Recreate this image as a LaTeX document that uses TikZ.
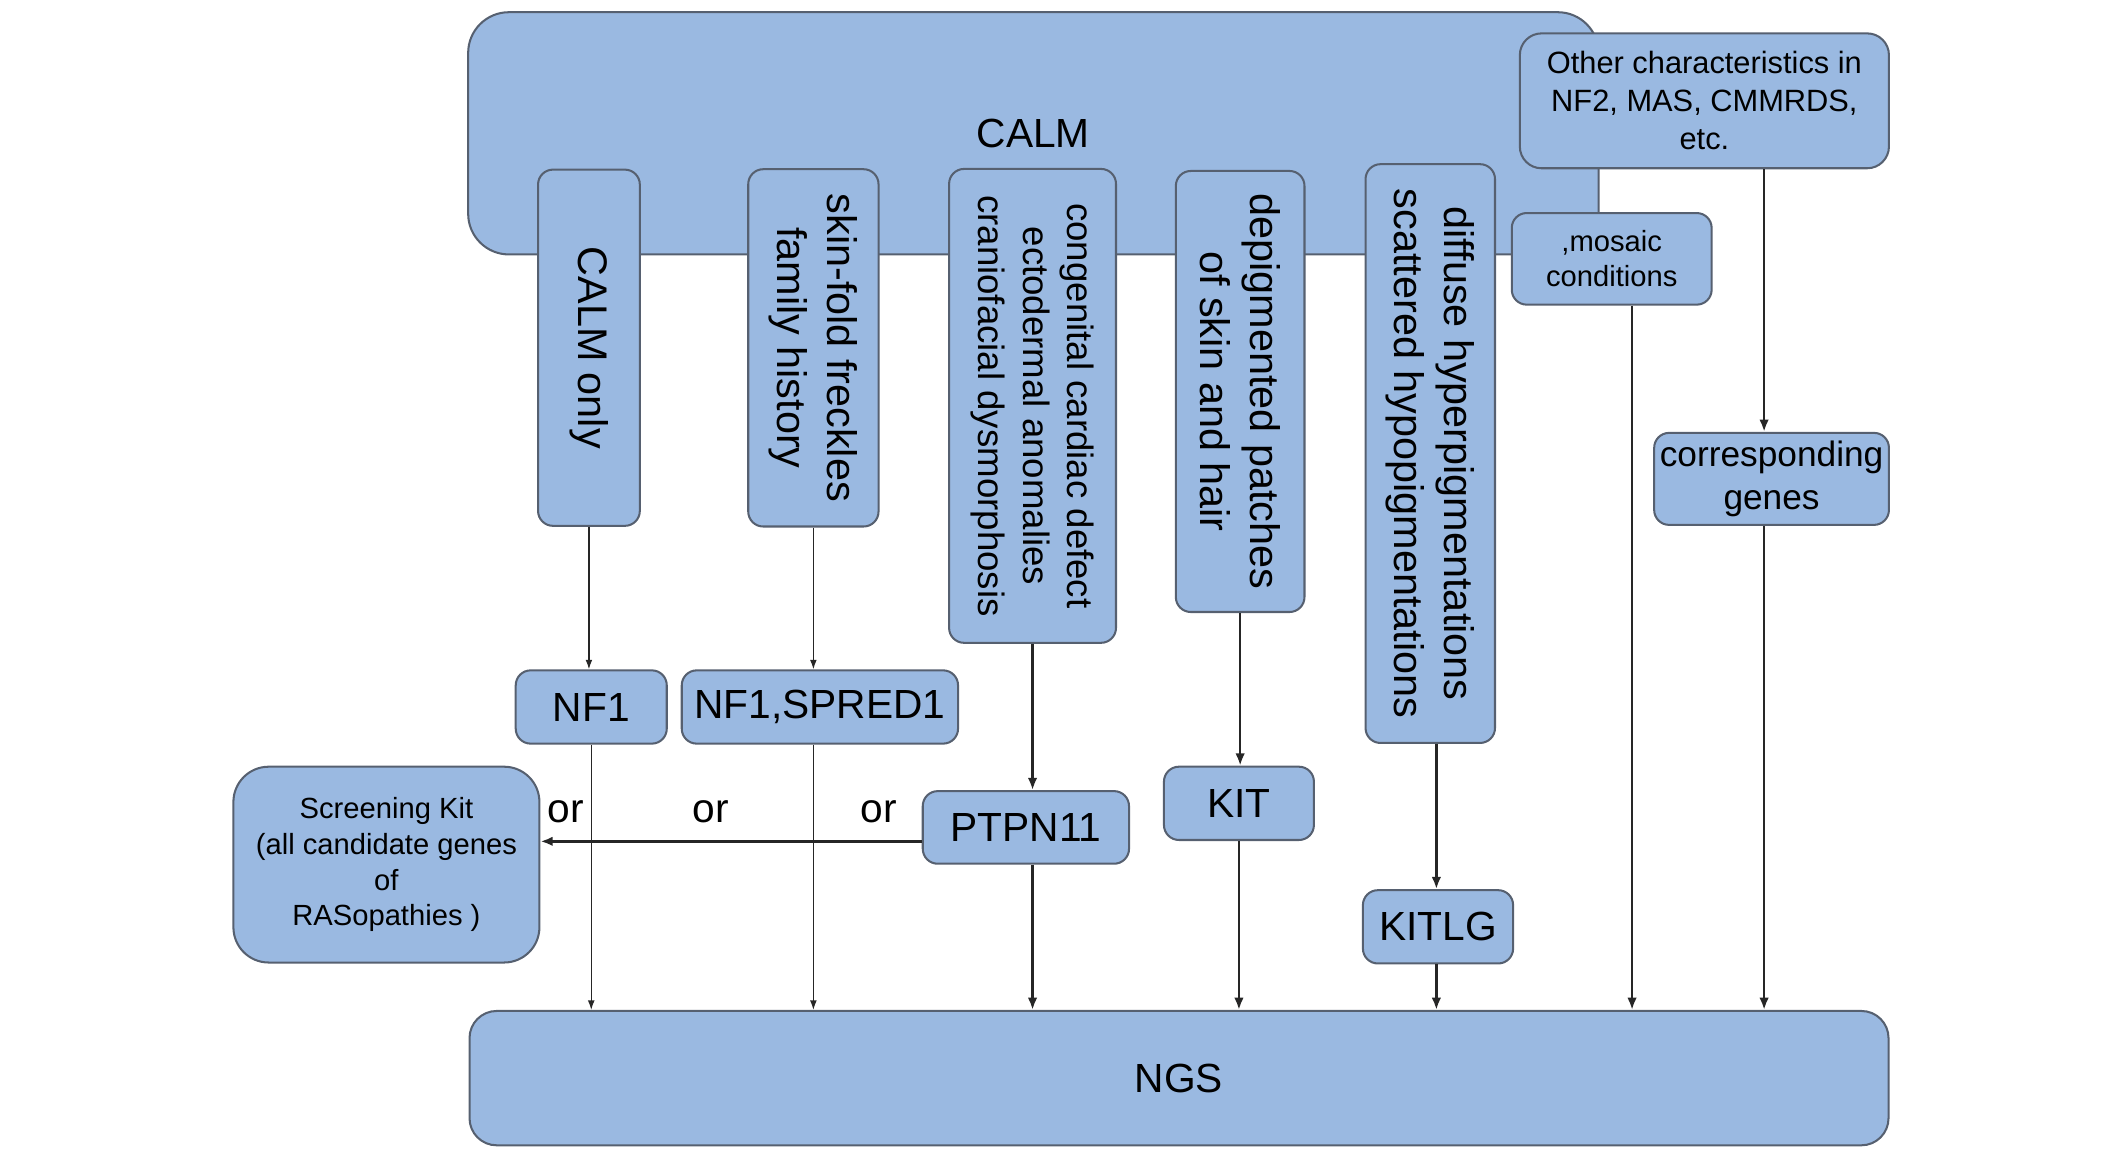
\documentclass[tikz,border=0pt]{standalone}
\usepackage{fontspec}
\setmainfont{Liberation Sans}
\usetikzlibrary{arrows.meta}
\definecolor{boxfill}{RGB}{154,185,225}
\definecolor{boxline}{RGB}{86,96,112}
\tikzset{
  box/.style={draw=boxline, fill=boxfill, line width=1.5pt, rounded corners=11pt, inner sep=0pt, align=center},
  bigtxt/.style={font=\fontsize{30}{36}\selectfont, align=center, inner sep=0pt},
  rottxt/.style={rotate=-90, font=\fontsize{30.5}{36.5}\selectfont, align=center, inner sep=0pt},
  thinarrow/.style={draw=black!85, line width=0.9pt, -{Latex[length=7pt,width=5pt]}},
  thickarrow/.style={draw=black!85, line width=1.8pt, -{Latex[length=9pt,width=7pt]}},
}
\begin{document}
\begin{tikzpicture}[x=1pt,y=1pt]
\useasboundingbox (0,0) rectangle (1566.7,-850.4);

% big CALM box
\node[box, rounded corners=30pt, minimum width=833pt, minimum height=178.5pt, font=\fontsize{30}{36}\selectfont] (calm) at (761.5,-98.25) {CALM};

% other characteristics
\node[box, rounded corners=16pt, minimum width=272pt, minimum height=99.4pt, font=\fontsize{22.7}{28}\selectfont] (other) at (1256,-74.3) {Other characteristics in\\NF2, MAS, CMMRDS,\\etc.};

% vertical feature boxes
\node[box, minimum width=75pt, minimum height=262.5pt] (calmonly) at (434,-256.25) {};
\node[rottxt] (calmonly-t) at (calmonly) {CALM only};

\node[box, minimum width=96pt, minimum height=263.3pt] (skin) at (599.4,-256.35) {};
\node[rottxt] (skin-t) at (skin) {skin-fold freckles\\family history};

\node[box, minimum width=123pt, minimum height=349.2pt] (cong) at (760.9,-299.1) {};
\node[rottxt, font=\fontsize{27}{32.9}\selectfont] (cong-t) at (cong) {congenital cardiac defect\\ectodermal anomalies\\craniofacial dysmorphosis};

\node[box, minimum width=94.8pt, minimum height=325pt] (depig) at (913.9,-288.5) {};
\node[rottxt] (depig-t) at (depig) {depigmented patches\\of skin and hair};

\node[box, minimum width=95.4pt, minimum height=426.5pt] (diff) at (1054,-334.25) {};
\node[rottxt] (diff-t) at (diff) {diffuse hyperpigmentations\\scattered hypopigmentations};

\node[box, minimum width=147.3pt, minimum height=67.5pt, font=\fontsize{21.5}{26}\selectfont] (mosaic) at (1187.7,-190.75) {,mosaic\\conditions};

\node[box, minimum width=173pt, minimum height=67.8pt, font=\fontsize{26}{32}\selectfont] (corr) at (1305.5,-352.9) {corresponding\\genes};

% gene boxes
\node[box, minimum width=111.3pt, minimum height=54pt, font=\fontsize{30}{36}\selectfont] (nf1) at (435.7,-521) {NF1};
\node[box, minimum width=203.6pt, minimum height=54pt, font=\fontsize{30}{36}\selectfont] (nfsp) at (604.2,-521) {NF1,SPRED1};
\node[box, minimum width=152pt, minimum height=53.5pt, font=\fontsize{30}{36}\selectfont] (ptpn) at (756,-609.75) {PTPN11};
\node[box, minimum width=110.5pt, minimum height=54pt, font=\fontsize{30}{36}\selectfont] (kit) at (913,-592) {KIT};
\node[box, minimum width=110.7pt, minimum height=54pt, font=\fontsize{30}{36}\selectfont] (kitlg) at (1059.7,-683) {KITLG};

\node[box, rounded corners=26pt, minimum width=225.5pt, minimum height=144.3pt, font=\fontsize{21.5}{26.3}\selectfont] (screen) at (284.75,-637.15) {Screening Kit\\(all candidate genes\\of\\RASopathies )};

\node[box, rounded corners=20pt, minimum width=1045.7pt, minimum height=99pt, font=\fontsize{30}{36}\selectfont] (ngs) at (868.85,-794.5) {NGS};

% or labels
\node[bigtxt] (or1) at (416.7,-598) {or};
\node[bigtxt] (or2) at (524,-598) {or};
\node[bigtxt] (or3) at (647.7,-598) {or};

% helper x positions
\coordinate (dx) at (1058.5,0);
\coordinate (mx) at (1202.7,0);
\coordinate (ox) at (1300,0);

% connectors
\draw[thinarrow] (calmonly.south) -- (calmonly.south |- nf1.north);
\draw[thinarrow] (nf1.south) -- (nf1.south |- ngs.north);
\draw[thinarrow] (skin.south) -- (skin.south |- nfsp.north);
\draw[thinarrow] (skin.south |- nfsp.south) -- (skin.south |- ngs.north);
\draw[thickarrow] (cong.south) -- (cong.south |- ptpn.north);
\draw[thickarrow] (cong.south |- ptpn.south) -- (cong.south |- ngs.north);
\draw[thickarrow] ([yshift=-10.25pt]ptpn.west) -- ([yshift=-10.25pt]ptpn.west -| screen.east);
\draw[thickarrow] (depig.south) -- (depig.south |- kit.north);
\draw[thickarrow] (kit.south) -- (kit.south |- ngs.north);
\draw[thickarrow] (diff.south -| dx) -- (kitlg.north -| dx);
\draw[thickarrow] (kitlg.south -| dx) -- (ngs.north -| dx);
\draw[thickarrow] (mosaic.south -| mx) -- (ngs.north -| mx);
\draw[thickarrow] (other.south -| ox) -- (corr.north -| ox);
\draw[thickarrow] (corr.south -| ox) -- (ngs.north -| ox);
\end{tikzpicture}
\end{document}
